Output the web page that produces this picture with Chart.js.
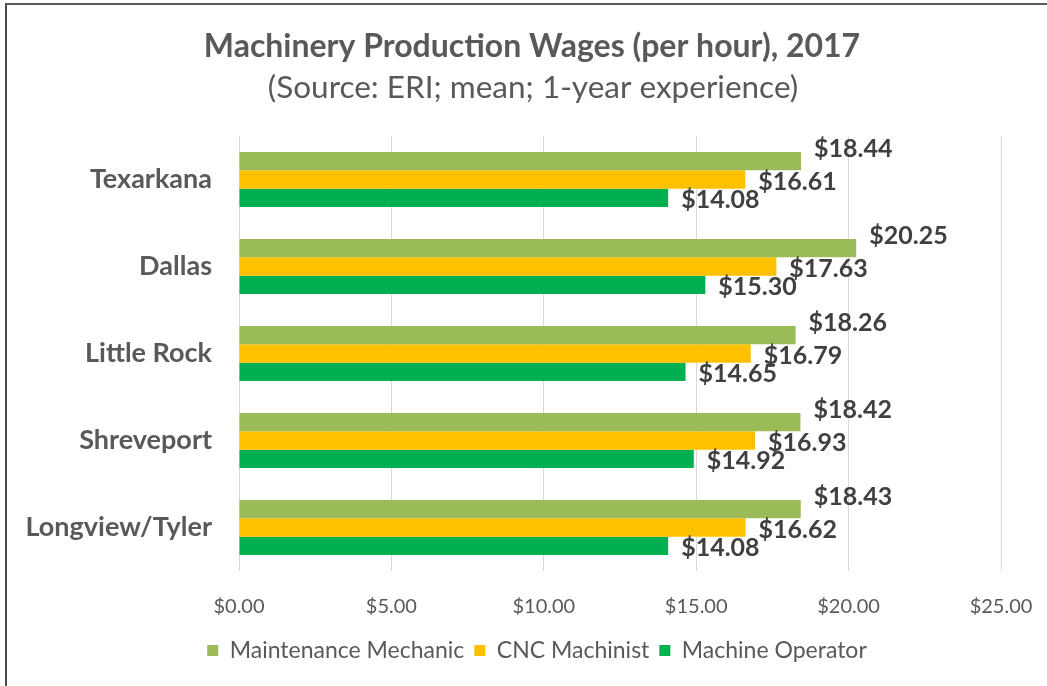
<!DOCTYPE html>
<html>
<head>
<meta charset="utf-8">
<script src="https://cdn.jsdelivr.net/npm/chart.js@4.4.1/dist/chart.umd.min.js"></script>
<style>
  html, body { margin: 0; padding: 0; background: #fff; overflow: hidden; }
  #wrap { position: relative; width: 1047px; height: 686px; }
  #frame { position: absolute; left: 5px; top: 3px; width: 1200px; height: 900px;
           border-left: 2px solid #4a4a4a; border-top: 2px solid #5a5a5a; box-sizing: border-box; }
  canvas { position: absolute; left: 0; top: 0; }
</style>
</head>
<body>
<div id="wrap">
  <div id="frame"></div>
  <canvas id="c" width="1047" height="686"></canvas>
</div>
<script>
const categories = ['Texarkana', 'Dallas', 'Little Rock', 'Shreveport', 'Longview/Tyler'];
const seriesNames = ['Maintenance Mechanic', 'CNC Machinist', 'Machine Operator'];
const maintenanceMechanic = [18.44, 20.25, 18.26, 18.42, 18.43];
const cncMachinist = [16.61, 17.63, 16.79, 16.93, 16.62];
const machineOperator = [14.08, 15.30, 14.65, 14.92, 14.08];
const xTicks = [0, 5, 10, 15, 20, 25];
const titleText = 'Machinery Production Wages (per hour), 2017';
const subtitleText = '(Source: ERI; mean; 1-year experience)';

const colors = ['#9BBB59', '#FFC000', '#00B050'];
const FONT = 'Lato, "Open Sans", sans-serif';

const headerPlugin = {
  id: 'header',
  afterDraw(chart) {
    const ctx = chart.ctx;
    ctx.save();
    ctx.textAlign = 'center';
    ctx.textBaseline = 'middle';
    ctx.fillStyle = '#595959';
    ctx.font = 'bold 32px ' + FONT;
    ctx.fillText(titleText, 532, 47);
    ctx.font = '31.5px ' + FONT;
    ctx.fillText(subtitleText, 533, 88);
    ctx.restore();
  }
};

const legendShiftPlugin = {
  id: 'legendShift',
  afterLayout(chart) {
    if (chart.legend) {
      const shift = 537 - (chart.legend.left + chart.legend.right) / 2;
      chart.legend.left += shift;
      chart.legend.right += shift;
    }
  }
};

const valueLabelPlugin = {
  id: 'valueLabels',
  afterDatasetsDraw(chart) {
    const ctx = chart.ctx;
    const yOff = [-12, 2, 2];
    ctx.save();
    ctx.font = 'bold 25px ' + FONT;
    ctx.fillStyle = '#404040';
    ctx.textAlign = 'left';
    ctx.textBaseline = 'middle';
    chart.data.datasets.forEach((ds, di) => {
      const meta = chart.getDatasetMeta(di);
      meta.data.forEach((bar, i) => {
        const v = ds.data[i];
        ctx.fillText('$' + v.toFixed(2), bar.x + 13, bar.y + yOff[di]);
      });
    });
    ctx.restore();
  }
};

new Chart(document.getElementById('c'), {
  type: 'bar',
  data: {
    labels: categories,
    datasets: [
      { label: seriesNames[0], data: maintenanceMechanic, backgroundColor: colors[0] },
      { label: seriesNames[1], data: cncMachinist, backgroundColor: colors[1] },
      { label: seriesNames[2], data: machineOperator, backgroundColor: colors[2] }
    ]
  },
  options: {
    indexAxis: 'y',
    responsive: false,
    animation: false,
    devicePixelRatio: 1,
    datasets: { bar: { categoryPercentage: 0.63, barPercentage: 1.0 } },
    layout: { padding: { top: 136, right: 46, left: 0, bottom: 14 } },
    scales: {
      x: {
        min: 0, max: 25,
        afterBuildTicks(scale) { scale.ticks = xTicks.map(v => ({ value: v })); },
        afterFit(scale) { scale.height = 58; scale.paddingRight = 0; scale.paddingLeft = 0; },
        grid: { color: '#D9D9D9', lineWidth: 1, drawTicks: false },
        border: { display: false },
        ticks: {
          padding: 24,
          color: '#595959',
          font: { family: FONT, size: 20 },
          callback: v => '$' + Number(v).toFixed(2)
        }
      },
      y: {
        afterFit(scale) { scale.width = 239; scale.paddingTop = 0; scale.paddingBottom = 0; },
        grid: { display: false, drawTicks: false },
        border: { display: false },
        ticks: {
          padding: 27,
          color: '#595959',
          font: { family: FONT, size: 27, weight: 'bold' }
        }
      }
    },
    plugins: {
      legend: {
        position: 'bottom',
        labels: {
          color: '#595959',
          font: { family: FONT, size: 23 },
          boxWidth: 11,
          boxHeight: 11,
          padding: 10
        }
      },
      tooltip: { enabled: false }
    }
  },
  plugins: [headerPlugin, valueLabelPlugin, legendShiftPlugin]
});
</script>
</body>
</html>
